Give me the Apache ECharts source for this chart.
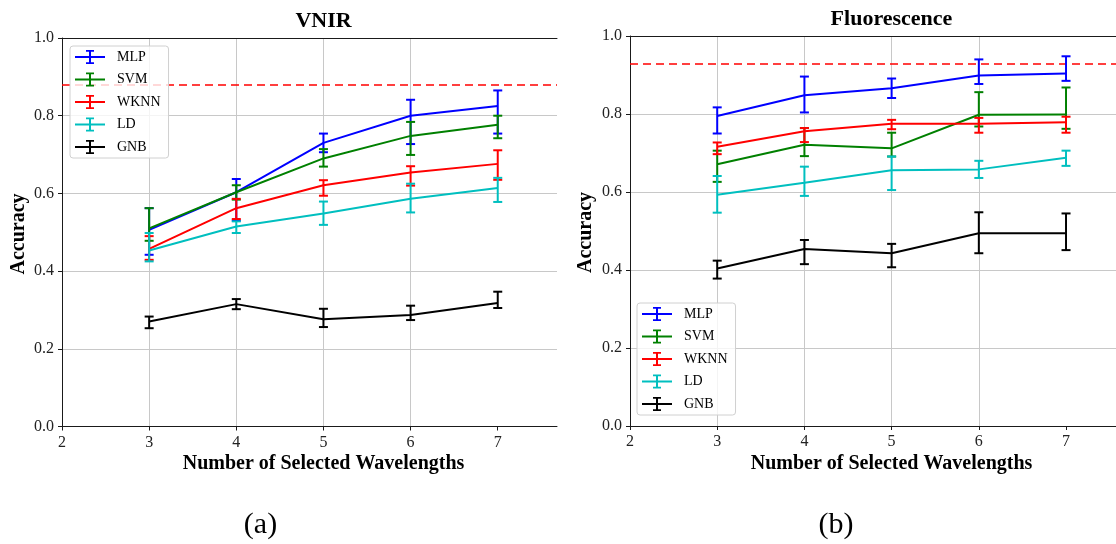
<!DOCTYPE html>
<html>
<head>
<meta charset="utf-8">
<script src="https://cdn.jsdelivr.net/npm/echarts@6/dist/echarts.min.js"></script>
<style>
  html, body { margin: 0; padding: 0; background: #fff; }
  #chart { width: 1116px; height: 544px; }
</style>
</head>
<body>
<div id="chart"></div>
<script>
// Number of selected wavelengths (x) and classifier names
const WAVELENGTHS = [3, 4, 5, 6, 7];
const MODELS = ['MLP', 'SVM', 'WKNN', 'LD', 'GNB'];
const X_TICKS = [2, 3, 4, 5, 6, 7];

// VNIR accuracy: mean, lower and upper error-bar ends
const VNIR_MLP      = [0.506, 0.603, 0.730, 0.800, 0.825];
const VNIR_MLP_LO   = [0.442, 0.530, 0.706, 0.727, 0.754];
const VNIR_MLP_HI   = [0.562, 0.637, 0.754, 0.841, 0.865];
const VNIR_SVM      = [0.510, 0.603, 0.690, 0.748, 0.777];
const VNIR_SVM_LO   = [0.478, 0.584, 0.669, 0.699, 0.742];
const VNIR_SVM_HI   = [0.562, 0.621, 0.714, 0.784, 0.800];
const VNIR_WKNN     = [0.457, 0.562, 0.621, 0.654, 0.676];
const VNIR_WKNN_LO  = [0.429, 0.534, 0.594, 0.620, 0.635];
const VNIR_WKNN_HI  = [0.490, 0.586, 0.634, 0.670, 0.711];
const VNIR_LD       = [0.453, 0.515, 0.548, 0.586, 0.614];
const VNIR_LD_LO    = [0.425, 0.498, 0.519, 0.551, 0.578];
const VNIR_LD_HI    = [0.498, 0.528, 0.579, 0.625, 0.640];
const VNIR_GNB      = [0.270, 0.315, 0.276, 0.287, 0.318];
const VNIR_GNB_LO   = [0.253, 0.302, 0.256, 0.274, 0.305];
const VNIR_GNB_HI   = [0.283, 0.328, 0.303, 0.311, 0.347];
const VNIR_BASELINE = 0.88;

// Fluorescence accuracy: mean, lower and upper error-bar ends
const FLUO_MLP      = [0.795, 0.848, 0.866, 0.899, 0.904];
const FLUO_MLP_LO   = [0.750, 0.804, 0.841, 0.877, 0.885];
const FLUO_MLP_HI   = [0.817, 0.896, 0.891, 0.940, 0.948];
const FLUO_SVM      = [0.671, 0.721, 0.712, 0.798, 0.799];
const FLUO_SVM_LO   = [0.626, 0.692, 0.691, 0.768, 0.762];
const FLUO_SVM_HI   = [0.706, 0.764, 0.752, 0.856, 0.868];
const FLUO_WKNN     = [0.716, 0.756, 0.775, 0.775, 0.779];
const FLUO_WKNN_LO  = [0.697, 0.728, 0.761, 0.752, 0.752];
const FLUO_WKNN_HI  = [0.727, 0.764, 0.785, 0.790, 0.793];
const FLUO_LD       = [0.593, 0.624, 0.656, 0.658, 0.688];
const FLUO_LD_LO    = [0.547, 0.590, 0.605, 0.636, 0.667];
const FLUO_LD_HI    = [0.641, 0.665, 0.691, 0.680, 0.706];
const FLUO_GNB      = [0.404, 0.454, 0.443, 0.494, 0.494];
const FLUO_GNB_LO   = [0.378, 0.415, 0.407, 0.443, 0.451];
const FLUO_GNB_HI   = [0.424, 0.477, 0.467, 0.548, 0.545];
const FLUO_BASELINE = 0.93;

const COLORS = { MLP: '#0000ff', SVM: '#008000', WKNN: '#ff0000', LD: '#00bfbf', GNB: '#000000' };
const FONT = "'Liberation Serif', 'Times New Roman', serif";
const AXIS_COLOR = '#1a1a1a';
const GRID_COLOR = '#c8c8c8';

// legend glyph: short line crossed by a capped error bar
const ERR_ICON = 'path://M0 6L30 6L30 8L0 8Z M14 0L16 0L16 14L14 14Z M11 0L19 0L19 1.8L11 1.8Z M11 12.2L19 12.2L19 14L11 14Z';

const VNIR = {
  MLP: [VNIR_MLP, VNIR_MLP_LO, VNIR_MLP_HI],
  SVM: [VNIR_SVM, VNIR_SVM_LO, VNIR_SVM_HI],
  WKNN: [VNIR_WKNN, VNIR_WKNN_LO, VNIR_WKNN_HI],
  LD: [VNIR_LD, VNIR_LD_LO, VNIR_LD_HI],
  GNB: [VNIR_GNB, VNIR_GNB_LO, VNIR_GNB_HI]
};
const FLUO = {
  MLP: [FLUO_MLP, FLUO_MLP_LO, FLUO_MLP_HI],
  SVM: [FLUO_SVM, FLUO_SVM_LO, FLUO_SVM_HI],
  WKNN: [FLUO_WKNN, FLUO_WKNN_LO, FLUO_WKNN_HI],
  LD: [FLUO_LD, FLUO_LD_LO, FLUO_LD_HI],
  GNB: [FLUO_GNB, FLUO_GNB_LO, FLUO_GNB_HI]
};

function renderErrorBar(params, api) {
  const x = api.value(0);
  const lo = api.coord([x, api.value(1)]);
  const hi = api.coord([x, api.value(2)]);
  const color = api.visual('color');
  const cap = 4.5;
  const style = { stroke: color, lineWidth: 2, fill: null };
  return {
    type: 'group',
    children: [
      { type: 'line', shape: { x1: lo[0], y1: lo[1], x2: hi[0], y2: hi[1] }, style: style },
      { type: 'line', shape: { x1: lo[0] - cap, y1: lo[1], x2: lo[0] + cap, y2: lo[1] }, style: style },
      { type: 'line', shape: { x1: hi[0] - cap, y1: hi[1], x2: hi[0] + cap, y2: hi[1] }, style: style }
    ]
  };
}

function panelSeries(table, xAxisIndex, yAxisIndex, baseline) {
  const out = [];
  MODELS.forEach((name, k) => {
    const [mean, lo, hi] = table[name];
    const color = COLORS[name];
    out.push({
      type: 'custom', name: name, xAxisIndex: xAxisIndex, yAxisIndex: yAxisIndex,
      renderItem: renderErrorBar,
      itemStyle: { color: color },
      encode: { x: 0, y: [1, 2] },
      data: WAVELENGTHS.map((x, i) => [x, lo[i], hi[i]]),
      z: 10 + 2 * k, silent: true, animation: false
    });
    const line = {
      type: 'line', name: name, xAxisIndex: xAxisIndex, yAxisIndex: yAxisIndex,
      data: WAVELENGTHS.map((x, i) => [x, mean[i]]),
      symbol: 'none', showSymbol: false,
      lineStyle: { color: color, width: 2 },
      itemStyle: { color: color },
      z: 11 + 2 * k, silent: true, animation: false
    };
    if (k === MODELS.length - 1) {
      line.markLine = {
        silent: true, symbol: 'none', animation: false,
        label: { show: false },
        lineStyle: { color: '#ff0000', type: [8, 5], width: 1.6 },
        data: [{ yAxis: baseline }]
      };
    }
    out.push(line);
  });
  return out;
}

function bottomAxis(gridIndex, max) {
  return {
    type: 'value', gridIndex: gridIndex, position: 'bottom', min: 2, max: max, interval: 1,
    axisLine: { show: true, onZero: false, lineStyle: { color: AXIS_COLOR, width: 1 } },
    axisTick: { show: true, length: 4, customValues: X_TICKS, lineStyle: { color: AXIS_COLOR } },
    axisLabel: {
      show: true, margin: 8, customValues: X_TICKS,
      fontFamily: FONT, fontSize: 16, color: '#222',
      formatter: v => (Number.isInteger(v) ? String(v) : '')
    },
    splitLine: { show: true, showMinLine: false, showMaxLine: false, lineStyle: { color: GRID_COLOR, width: 1 } }
  };
}
function topSpine(gridIndex, max) {
  return {
    type: 'value', gridIndex: gridIndex, position: 'top', min: 2, max: max,
    axisLine: { show: true, onZero: false, lineStyle: { color: AXIS_COLOR, width: 1 } },
    axisTick: { show: false }, axisLabel: { show: false }, splitLine: { show: false }
  };
}
function leftAxis(gridIndex) {
  return {
    type: 'value', gridIndex: gridIndex, min: 0, max: 1, interval: 0.2,
    axisLine: { show: true, onZero: false, lineStyle: { color: AXIS_COLOR, width: 1 } },
    axisTick: { show: true, length: 4, lineStyle: { color: AXIS_COLOR } },
    axisLabel: { margin: 8, fontFamily: FONT, fontSize: 16, color: '#222', formatter: v => v.toFixed(1) },
    splitLine: { show: true, showMinLine: false, showMaxLine: false, lineStyle: { color: GRID_COLOR, width: 1 } }
  };
}
function legendAt(left, top) {
  return {
    orient: 'vertical', left: left, top: top,
    itemWidth: 30, itemHeight: 14, itemGap: 8.5,
    padding: [4, 8, 4, 5],
    backgroundColor: 'rgba(255,255,255,0.8)',
    borderColor: '#d0d0d0', borderWidth: 1, borderRadius: 3,
    selectedMode: false,
    itemStyle: { borderWidth: 0 },
    textStyle: { fontFamily: FONT, fontSize: 14, color: '#000', padding: [0, 0, 0, 7] },
    data: MODELS.map(m => ({ name: m, icon: ERR_ICON, itemStyle: { color: COLORS[m], borderWidth: 0 } })),
    z: 50
  };
}
function label(text, x, y, size, weight, rotation) {
  return {
    type: 'text', x: x, y: y, rotation: rotation || 0, z: 60,
    style: {
      text: text, font: weight + ' ' + size + 'px ' + FONT, fill: '#000',
      textAlign: 'center', textVerticalAlign: 'middle'
    }
  };
}

const chart = echarts.init(document.getElementById('chart'), null, { renderer: 'canvas' });
chart.setOption({
  backgroundColor: '#fff',
  animation: false,
  grid: [
    { left: 62, top: 38, width: 495, height: 388.5 },
    { left: 630, top: 36, width: 486, height: 390 }
  ],
  xAxis: [bottomAxis(0, 7.68), topSpine(0, 7.68), bottomAxis(1, 7.573), topSpine(1, 7.573)],
  yAxis: [leftAxis(0), leftAxis(1)],
  legend: [legendAt(70, 46), legendAt(637, 303)],
  series: [].concat(panelSeries(VNIR, 0, 0, VNIR_BASELINE), panelSeries(FLUO, 2, 1, FLUO_BASELINE)),
  graphic: [
    label('VNIR', 323.5, 21.5, 22, 'bold'),
    label('Fluorescence', 891.5, 19, 22, 'bold'),
    label('Number of Selected Wavelengths', 323.5, 464, 20, 'bold'),
    label('Number of Selected Wavelengths', 891.5, 464, 20, 'bold'),
    label('Accuracy', 18.5, 234, 20, 'bold', Math.PI / 2),
    label('Accuracy', 585.5, 232.5, 20, 'bold', Math.PI / 2),
    label('(a)', 260.5, 525, 30, 'normal'),
    label('(b)', 836, 525, 30, 'normal')
  ]
});
</script>
</body>
</html>
